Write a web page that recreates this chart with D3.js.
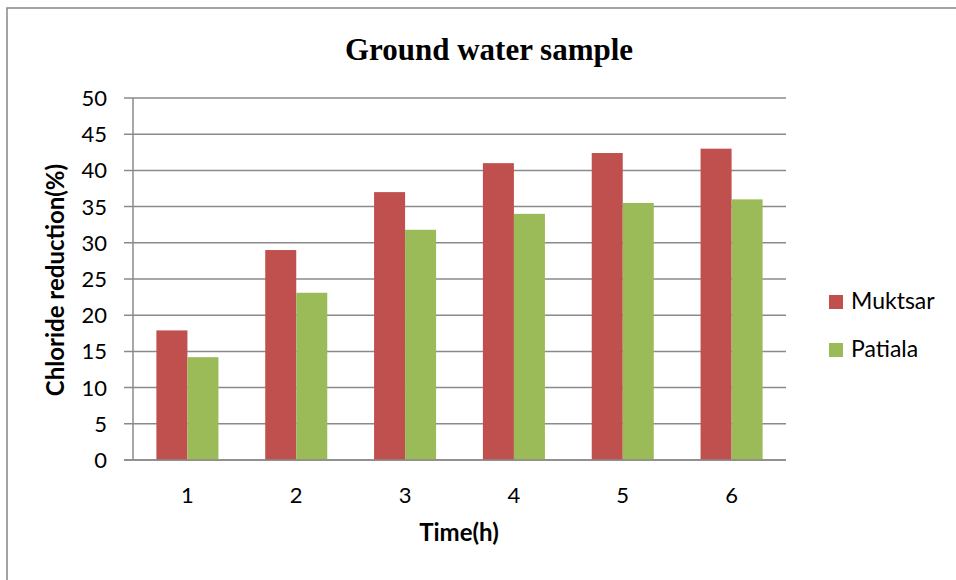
<!DOCTYPE html>
<html>
<head>
  <meta charset="utf-8">
  <title>Ground water sample</title>
  <script src="https://d3js.org/d3.v7.min.js"></script>
  <style>
    body { margin: 0; background: #fff; }
    svg { display: block; }
    .tick-label { font-family: Lato, "Open Sans", sans-serif; font-size: 22px; fill: #000; }
    .legend-label { font-family: Lato, "Open Sans", sans-serif; font-size: 23px; fill: #000; }
    .axis-title { font-family: Lato, "Open Sans", sans-serif; font-size: 24px; font-weight: bold; fill: #000; }
  </style>
</head>
<body>
  <div id="chart"></div>
  <script>
    // data
    const times = ["1", "2", "3", "4", "5", "6"];
    const seriesNames = ["Muktsar", "Patiala"];
    const muktsar = [17.9, 29.0, 37.0, 41.0, 42.4, 43.0];
    const patiala = [14.2, 23.1, 31.8, 34.0, 35.5, 36.0];
    const yTicks = [0, 5, 10, 15, 20, 25, 30, 35, 40, 45, 50];
    const colors = ["#C0504D", "#9BBB59"];

    const width = 956, height = 580;
    const plot = { left: 133, right: 786, top: 98, bottom: 460 };

    const svg = d3.select("#chart").append("svg")
      .attr("width", width)
      .attr("height", height);

    // outer chart border (runs off the right and bottom)
    svg.append("rect")
      .attr("x", 7).attr("y", 8)
      .attr("width", 960).attr("height", 600)
      .attr("fill", "none")
      .attr("stroke", "#878787")
      .attr("stroke-width", 1.5);

    const x0 = d3.scaleBand()
      .domain(times)
      .range([plot.left, plot.right])
      .paddingInner(0.43)
      .paddingOuter(0.215);

    const x1 = d3.scaleBand()
      .domain(seriesNames)
      .range([0, x0.bandwidth()]);

    const y = d3.scaleLinear()
      .domain([0, 50])
      .range([plot.bottom, plot.top]);

    // gridlines + tick marks
    svg.append("g").selectAll("line")
      .data(yTicks)
      .enter().append("line")
      .attr("x1", plot.left - 9)
      .attr("x2", plot.right)
      .attr("y1", d => y(d))
      .attr("y2", d => y(d))
      .attr("stroke", "#8a8a8a")
      .attr("stroke-width", 1.5);

    // vertical axis line
    svg.append("line")
      .attr("x1", plot.left).attr("x2", plot.left)
      .attr("y1", plot.top).attr("y2", plot.bottom)
      .attr("stroke", "#8a8a8a")
      .attr("stroke-width", 1.5);

    // bars
    const rows = times.map((t, i) => ({ t: t, values: [muktsar[i], patiala[i]] }));
    const groups = svg.append("g").selectAll("g")
      .data(rows)
      .enter().append("g")
      .attr("transform", d => "translate(" + x0(d.t) + ",0)");

    groups.selectAll("rect")
      .data(d => d.values.map((v, j) => ({ name: seriesNames[j], v: v, j: j })))
      .enter().append("rect")
      .attr("x", d => x1(d.name))
      .attr("y", d => y(d.v))
      .attr("width", x1.bandwidth())
      .attr("height", d => y(0) - y(d.v))
      .attr("fill", d => colors[d.j]);

    // redraw the zero line over the bars
    svg.append("line")
      .attr("x1", plot.left - 9).attr("x2", plot.right)
      .attr("y1", y(0)).attr("y2", y(0))
      .attr("stroke", "#8a8a8a")
      .attr("stroke-width", 1.5);

    // y tick labels
    svg.append("g").selectAll("text")
      .data(yTicks)
      .enter().append("text")
      .attr("class", "tick-label")
      .attr("x", 107)
      .attr("y", d => y(d))
      .attr("dy", "0.36em")
      .attr("text-anchor", "end")
      .text(d => d);

    // x tick labels
    svg.append("g").selectAll("text")
      .data(times)
      .enter().append("text")
      .attr("class", "tick-label")
      .attr("x", d => x0(d) + x0.bandwidth() / 2)
      .attr("y", 503)
      .attr("text-anchor", "middle")
      .text(d => d);

    // title
    svg.append("text")
      .attr("x", 489).attr("y", 60)
      .attr("text-anchor", "middle")
      .style("font-family", '"Liberation Serif", "Times New Roman", serif')
      .style("font-size", "31px")
      .style("font-weight", "bold")
      .text("Ground water sample");

    // axis titles
    svg.append("text")
      .attr("class", "axis-title")
      .attr("x", 459).attr("y", 541)
      .attr("text-anchor", "middle")
      .text("Time(h)");

    svg.append("text")
      .attr("class", "axis-title")
      .attr("transform", "translate(64,280) rotate(-90)")
      .attr("text-anchor", "middle")
      .text("Chloride reduction(%)");

    // legend
    const legend = svg.append("g").selectAll("g")
      .data(seriesNames)
      .enter().append("g")
      .attr("transform", (d, i) => "translate(829," + (295 + i * 48) + ")");

    legend.append("rect")
      .attr("width", 14).attr("height", 14)
      .attr("fill", (d, i) => colors[i]);

    legend.append("text")
      .attr("class", "legend-label")
      .attr("x", 22).attr("y", 14)
      .text(d => d);
  </script>
</body>
</html>
